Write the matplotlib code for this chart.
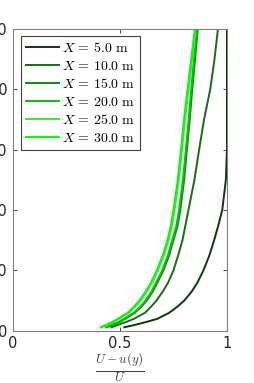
import matplotlib
matplotlib.use('Agg')
import matplotlib.pyplot as plt

plt.rcParams['mathtext.fontset'] = 'cm'
plt.rcParams['font.family'] = 'DejaVu Sans'

# wall distance (shared by all profiles)
y = [0.6, 1, 1.5, 2, 3, 4, 5, 6.5, 8, 10, 12.5, 15, 17.5, 20, 25, 30, 35, 40, 45, 50]

# velocity deficit (U - u(y)) / U at each station
x5 = [0.520, 0.570, 0.625, 0.675, 0.730, 0.768, 0.800, 0.835, 0.862, 0.890,
      0.918, 0.940, 0.960, 0.978, 0.995, 1.0, 1.0, 1.0, 1.0, 1.0]
x10 = [0.460, 0.490, 0.530, 0.565, 0.617, 0.645, 0.670, 0.700, 0.725, 0.750,
       0.772, 0.792, 0.806, 0.820, 0.848, 0.870, 0.893, 0.922, 0.942, 0.958]
x15 = [0.440, 0.465, 0.500, 0.525, 0.570, 0.600, 0.625, 0.653, 0.675, 0.703,
       0.730, 0.750, 0.770, 0.782, 0.800, 0.813, 0.826, 0.838, 0.851, 0.864]
x20 = [0.434, 0.459, 0.494, 0.519, 0.564, 0.594, 0.619, 0.647, 0.669, 0.697,
       0.724, 0.744, 0.764, 0.776, 0.794, 0.808, 0.821, 0.833, 0.846, 0.860]
x25 = [0.414, 0.440, 0.470, 0.495, 0.542, 0.570, 0.595, 0.625, 0.650, 0.677,
       0.705, 0.727, 0.743, 0.755, 0.775, 0.790, 0.804, 0.821, 0.837, 0.853]
x30 = [0.410, 0.435, 0.465, 0.490, 0.537, 0.565, 0.590, 0.620, 0.645, 0.672,
       0.700, 0.722, 0.738, 0.750, 0.770, 0.785, 0.799, 0.816, 0.833, 0.850]

stations = ['5.0', '10.0', '15.0', '20.0', '25.0', '30.0']
profiles = [x5, x10, x15, x20, x25, x30]
colors = ['#0b3b0b', '#1a6a1a', '#118811', '#11bb11', '#33ee33', '#00ff00']

fig = plt.figure(figsize=(2.55, 3.83), dpi=100)
ax = fig.add_axes([0.051, 0.136, 0.839, 0.789])

for xs, st, c in zip(profiles, stations, colors):
    ax.plot(xs, y, color=c, linewidth=1.4, label=r'$X\,=\,' + st + r'\ \mathrm{m}$')

ax.set_xlim(0, 1)
ax.set_ylim(0, 50)
ax.set_xticks([0, 0.5, 1])
ax.set_xticklabels(['0', '0.5', '1'])
ax.set_yticks([0, 10, 20, 30, 40, 50])
ax.tick_params(direction='in', top=True, right=True, length=3, width=0.6,
               labelsize=10.5, colors='#262626', pad=4)
for s in ax.spines.values():
    s.set_color('#808080')
    s.set_linewidth(0.8)

ax.set_xlabel(r'$\frac{U-u(y)}{U}$', fontsize=13.5, color='#404040', labelpad=-1)

leg = ax.legend(loc='upper left', fontsize=10, handlelength=2.4, handletextpad=0.2,
                labelspacing=0.28, borderpad=0.35, borderaxespad=0.55,
                fancybox=False, framealpha=1)
leg.get_frame().set_edgecolor('#404040')
leg.get_frame().set_linewidth(0.8)

fig.savefig('out.png', dpi=100)
